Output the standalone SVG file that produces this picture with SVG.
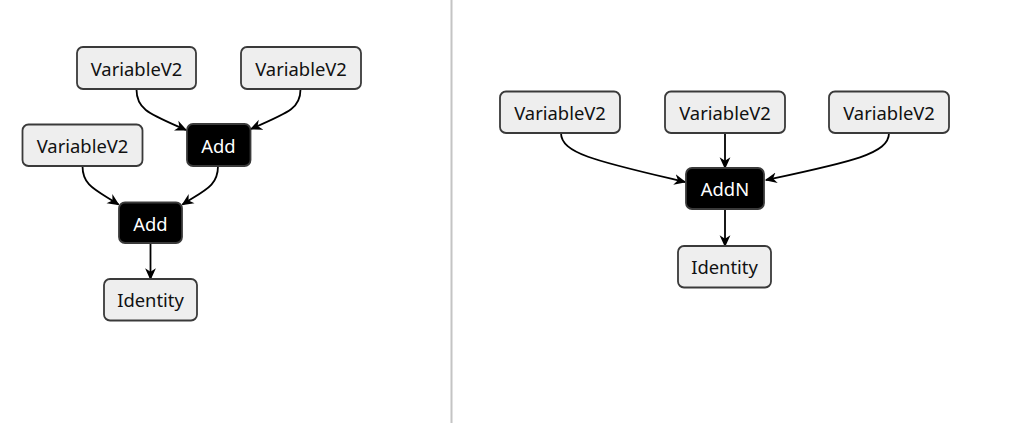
<svg xmlns="http://www.w3.org/2000/svg" width="1013" height="423" viewBox="0 0 1013 423">
<defs>
<style>
.lt rect{fill:#eeeeee;stroke:#3a3a3a;stroke-width:1.8}
.dk rect{fill:#000000;stroke:#3a3a3a;stroke-width:1.8}
text{font-family:"Noto Sans","Open Sans","DejaVu Sans",sans-serif;font-size:18.4px;text-anchor:middle}
.lt text{fill:#111111}
.dk text{fill:#ffffff}
#edges path{fill:none;stroke:#000;stroke-width:1.8;marker-end:url(#arr)}
</style>
<marker id="arr" viewBox="0 0 10 10" refX="9" refY="5" markerWidth="12" markerHeight="12" markerUnits="userSpaceOnUse" orient="auto">
<path d="M0,0.5 L10,5 L0,9.5 L3,5 z" fill="#000"/>
</marker>
</defs>
<rect width="1013" height="423" fill="#ffffff"/>
<line x1="451.5" y1="0" x2="451.5" y2="423" stroke="#c4c4c4" stroke-width="2"/>

<g id="edges">
<path d="M136.5,89.5 C136.5,110 150,114 186,130"/>
<path d="M300.5,89.5 C300.5,108 290,112 251,129"/>
<path d="M82.5,166 C82.5,186 96,190 118.5,204.5"/>
<path d="M218,166 C218,186 205,190 182.5,204.5"/>
<path d="M150.5,243 L150.5,279"/>
<path d="M561,133 C561,154 600,162 685,182"/>
<path d="M725,133 L725,168"/>
<path d="M889,133 C889,154 850,162 766,180"/>
<path d="M725,209 L725,246"/>
</g>

<g id="n_var_tl" class="lt"><rect x="77" y="47" width="119" height="42" rx="6"/><text x="136.5" y="75.5">VariableV2</text></g>
<g id="n_var_tr" class="lt"><rect x="241" y="47" width="120" height="42" rx="6"/><text x="301" y="75.5">VariableV2</text></g>
<g id="n_var_l" class="lt"><rect x="22.5" y="124.5" width="120" height="41.5" rx="6"/><text x="82.5" y="152.5">VariableV2</text></g>
<g id="n_add1" class="dk"><rect x="187" y="124" width="63.5" height="42" rx="6"/><text x="218.5" y="152.5">Add</text></g>
<g id="n_add2" class="dk"><rect x="119" y="202.5" width="63" height="40.5" rx="6"/><text x="150.5" y="230.5">Add</text></g>
<g id="n_id_l" class="lt"><rect x="104" y="279" width="93" height="41.5" rx="6"/><text x="150.5" y="307">Identity</text></g>

<g id="n_var_r1" class="lt"><rect x="500" y="91.5" width="120" height="41.5" rx="6"/><text x="560" y="119.5">VariableV2</text></g>
<g id="n_var_r2" class="lt"><rect x="665" y="91.5" width="120" height="41.5" rx="6"/><text x="725" y="119.5">VariableV2</text></g>
<g id="n_var_r3" class="lt"><rect x="829" y="91.5" width="120" height="41.5" rx="6"/><text x="889" y="119.5">VariableV2</text></g>
<g id="n_addn" class="dk"><rect x="686" y="168" width="78" height="41" rx="6"/><text x="725" y="196">AddN</text></g>
<g id="n_id_r" class="lt"><rect x="678" y="246" width="93" height="41.5" rx="6"/><text x="724.5" y="274">Identity</text></g>
</svg>
